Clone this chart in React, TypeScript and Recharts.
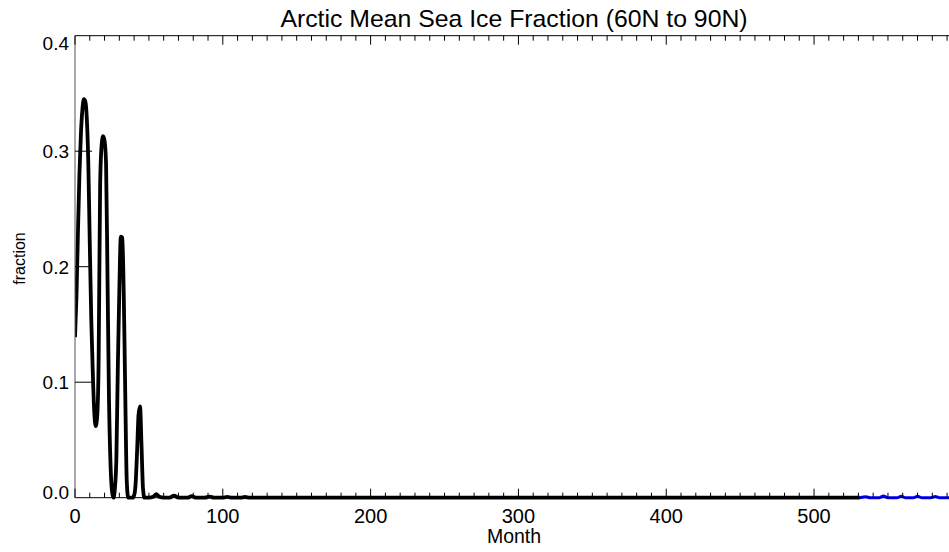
import React from 'react';
import { LineChart, Line, XAxis, YAxis } from 'recharts';

// Month index and Arctic mean sea-ice fraction (black: model run)
const iceMonths = [
  0, 1, 2, 3, 4, 5, 6, 7, 8, 9, 10, 11, 12, 13, 14, 15, 16, 17, 18, 19, 20, 21, 22, 23, 24,
  25, 26, 27, 28, 29, 30, 31, 32, 33, 34, 35, 36, 37, 38, 39, 40, 41, 42, 43, 44, 45, 46, 47,
  50, 53, 55, 57, 60, 64, 67, 70, 76, 79, 82, 88, 91, 94, 100, 103, 106, 112, 115, 118, 150,
  200, 250, 300, 350, 400, 450, 500, 531,
];
const iceFraction = [
  0.139, 0.175, 0.23, 0.28, 0.315, 0.336, 0.345, 0.343, 0.328, 0.29, 0.22, 0.155, 0.11, 0.075,
  0.062, 0.07, 0.12, 0.27, 0.305, 0.313, 0.309, 0.29, 0.19, 0.085, 0.03,
  0.006, 0.0, 0.008, 0.035, 0.115, 0.18, 0.226, 0.225, 0.175, 0.09, 0.015, 0.0, 0.0, 0.0, 0.0,
  0.002, 0.012, 0.04, 0.072, 0.079, 0.045, 0.008, 0.0,
  0.0, 0.0008, 0.003, 0.0008, 0.0, 0.0, 0.0018, 0.0, 0.0, 0.0013, 0.0, 0.0, 0.001, 0.0, 0.0,
  0.0008, 0.0, 0.0, 0.0006, 0.0, 0.0,
  0.0, 0.0, 0.0, 0.0, 0.0, 0.0, 0.0, 0.0,
];

// Continuation (blue)
const extMonths = [531, 535, 538, 544, 547, 550, 556, 559, 562, 567, 570, 573, 579, 582, 585, 594];
const extFraction = [0.0, 0.0008, 0.0, 0.0, 0.0015, 0.0, 0.0, 0.0012, 0.0, 0.0, 0.0012, 0.0, 0.0, 0.001, 0.0, 0.0];

const xTicks = [
  0, 10, 20, 30, 40, 50, 60, 70, 80, 90, 100, 110, 120, 130, 140, 150, 160, 170, 180, 190,
  200, 210, 220, 230, 240, 250, 260, 270, 280, 290, 300, 310, 320, 330, 340, 350, 360, 370,
  380, 390, 400, 410, 420, 430, 440, 450, 460, 470, 480, 490, 500, 510, 520, 530, 540, 550,
  560, 570, 580, 590,
];
const xMajorLabels = ['0', '100', '200', '300', '400', '500'];
const yTicks = [0, 0.1, 0.2, 0.3, 0.4];
const yTickLabels = ['0.0', '0.1', '0.2', '0.3', '0.4'];

const titleText = 'Arctic Mean Sea Ice Fraction (60N to 90N)';
const xLabelText = 'Month';
const yLabelText = 'fraction';

const iceData = iceMonths.map((m, i) => ({ month: m, value: iceFraction[i] }));
const extData = extMonths.map((m, i) => ({ month: m, value: extFraction[i] }));

const FONT = '"Liberation Sans", Arial, Helvetica, sans-serif';

const BottomTick = (props: any) => {
  const { x, y, payload } = props;
  const v = payload.value;
  const major = v % 100 === 0;
  const idx = major ? v / 100 : -1;
  return (
    <g>
      <line x1={x} y1={y} x2={x} y2={y - (major ? 9 : 5)} stroke="#000" strokeWidth={1} />
      {major && idx < xMajorLabels.length ? (
        <text x={x} y={y + 25.6} textAnchor="middle" fontSize={20} fontFamily={FONT} fill="#000">
          {xMajorLabels[idx]}
        </text>
      ) : null}
    </g>
  );
};

const TopTick = (props: any) => {
  const { x, y, payload } = props;
  const major = payload.value % 100 === 0;
  return <line x1={x} y1={y} x2={x} y2={y + (major ? 9 : 5)} stroke="#000" strokeWidth={1} />;
};

const LeftTick = (props: any) => {
  const { x, y, payload } = props;
  const i = yTicks.indexOf(payload.value);
  let dy = 7;
  if (i === 0) dy = 1.5;
  if (i === yTicks.length - 1) dy = 14;
  return (
    <g>
      {i > 0 && i < yTicks.length - 1 ? (
        <line x1={x} y1={y} x2={x + 17} y2={y} stroke="#000" strokeWidth={1} />
      ) : null}
      <text x={x - 6} y={y + dy} textAnchor="end" fontSize={19} fontFamily={FONT} fill="#000">
        {i >= 0 ? yTickLabels[i] : ''}
      </text>
    </g>
  );
};

const RightTick = (props: any) => {
  const { x, y, payload } = props;
  const i = yTicks.indexOf(payload.value);
  if (i <= 0 || i >= yTicks.length - 1) return <g />;
  return <line x1={x} y1={y} x2={x - 17} y2={y} stroke="#000" strokeWidth={1} />;
};

export default function App() {
  return (
    <div
      style={{
        position: 'absolute',
        left: 0,
        top: 0,
        width: 949,
        height: 552,
        overflow: 'hidden',
        background: '#fff',
      }}
    >
      <LineChart
        width={1000}
        height={552}
        margin={{ top: 25.7, right: 0, bottom: 24.3, left: 15 }}
      >
        <XAxis
          xAxisId="bottom"
          dataKey="month"
          type="number"
          domain={[0, 594]}
          ticks={xTicks}
          interval={0}
          height={30}
          tickSize={0}
          tickMargin={0}
          tickLine={false}
          axisLine={{ stroke: '#000', strokeWidth: 1 }}
          tick={<BottomTick />}
          allowDataOverflow
        />
        <XAxis
          xAxisId="top"
          orientation="top"
          dataKey="month"
          type="number"
          domain={[0, 594]}
          ticks={xTicks}
          interval={0}
          height={10}
          tickSize={0}
          tickMargin={0}
          tickLine={false}
          axisLine={{ stroke: '#000', strokeWidth: 1 }}
          tick={<TopTick />}
          allowDataOverflow
        />
        <YAxis
          yAxisId="left"
          type="number"
          domain={[0, 0.4]}
          ticks={yTicks}
          interval={0}
          width={60}
          tickSize={0}
          tickMargin={0}
          tickLine={false}
          axisLine={{ stroke: '#555', strokeWidth: 1 }}
          tick={<LeftTick />}
        />
        <YAxis
          yAxisId="right"
          orientation="right"
          type="number"
          domain={[0, 0.4]}
          ticks={yTicks}
          interval={0}
          width={47}
          tickSize={0}
          tickMargin={0}
          tickLine={false}
          axisLine={{ stroke: '#000', strokeWidth: 1 }}
          tick={<RightTick />}
        />
        <Line
          data={iceData}
          xAxisId="bottom"
          yAxisId="left"
          dataKey="value"
          type="monotone"
          stroke="#000"
          strokeWidth={3.8}
          dot={false}
          activeDot={false}
          isAnimationActive={false}
        />
        <Line
          data={extData}
          xAxisId="bottom"
          yAxisId="left"
          dataKey="value"
          type="monotone"
          stroke="#0000ff"
          strokeWidth={3}
          dot={false}
          activeDot={false}
          isAnimationActive={false}
        />
      </LineChart>
      <svg
        width={949}
        height={552}
        style={{ position: 'absolute', left: 0, top: 0, pointerEvents: 'none' }}
      >
        <text x={514} y={26.5} textAnchor="middle" fontSize={24.8} fontFamily={FONT} fill="#000">
          {titleText}
        </text>
        <text x={514} y={543.3} textAnchor="middle" fontSize={19.5} fontFamily={FONT} fill="#000">
          {xLabelText}
        </text>
        <text
          x={25}
          y={258.5}
          textAnchor="middle"
          fontSize={16}
          fontFamily={FONT}
          fill="#000"
          transform="rotate(-90 25 258.5)"
        >
          {yLabelText}
        </text>
      </svg>
    </div>
  );
}
